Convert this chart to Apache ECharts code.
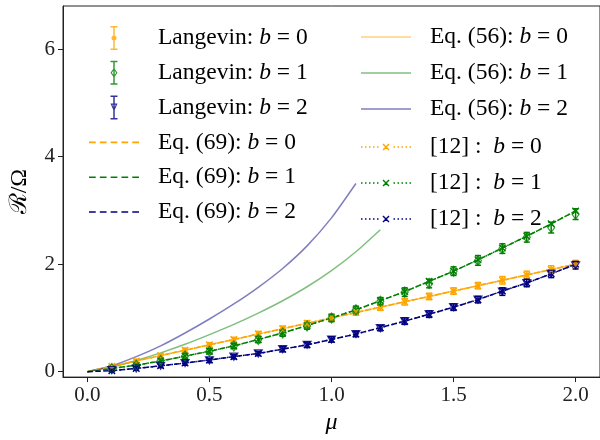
<!DOCTYPE html>
<html>
<head>
<meta charset="utf-8">
<script src="https://cdn.jsdelivr.net/npm/echarts@6/dist/echarts.min.js"></script>
<style>
  html, body { margin: 0; padding: 0; background: #fff; }
  #chart { width: 600px; height: 440px; }
</style>
</head>
<body>
<div id="chart"></div>
<script>
// mu grid of the simulation points, and of the theory curves (starting at 0)
const mu = [0.1, 0.2, 0.3, 0.4, 0.5, 0.6, 0.7, 0.8, 0.9, 1.0, 1.1, 1.2, 1.3, 1.4, 1.5, 1.6, 1.7, 1.8, 1.9, 2.0];
const muLine = [0, 0.1, 0.2, 0.3, 0.4, 0.5, 0.6, 0.7, 0.8, 0.9, 1.0, 1.1, 1.2, 1.3, 1.4, 1.5, 1.6, 1.7, 1.8, 1.9, 2.0];
const muEq56B1 = [0, 0.1, 0.2, 0.3, 0.4, 0.5, 0.6, 0.7, 0.8, 0.9, 1.0, 1.1, 1.2];
const muEq56B2 = [0, 0.1, 0.2, 0.3, 0.4, 0.5, 0.6, 0.7, 0.8, 0.9, 1.0, 1.1];

// Langevin simulation with error bars
const langB0 = [0.10, 0.20, 0.29, 0.40, 0.50, 0.60, 0.70, 0.80, 0.90, 1.00, 1.10, 1.20, 1.30, 1.40, 1.50, 1.60, 1.70, 1.80, 1.90, 2.00];
const errB0 = [0.03, 0.03, 0.04, 0.04, 0.04, 0.04, 0.05, 0.05, 0.05, 0.05, 0.05, 0.06, 0.06, 0.06, 0.06, 0.06, 0.07, 0.07, 0.07, 0.07];
const langB1 = [0.06, 0.12, 0.21, 0.29, 0.38, 0.48, 0.60, 0.72, 0.85, 1.00, 1.15, 1.31, 1.48, 1.64, 1.87, 2.07, 2.29, 2.50, 2.68, 2.93];
const errB1 = [0.03, 0.04, 0.04, 0.05, 0.05, 0.05, 0.06, 0.06, 0.06, 0.07, 0.07, 0.07, 0.08, 0.08, 0.08, 0.09, 0.09, 0.09, 0.10, 0.10];
const langB2 = [0.03, 0.06, 0.11, 0.16, 0.21, 0.28, 0.34, 0.42, 0.50, 0.60, 0.70, 0.81, 0.94, 1.07, 1.20, 1.34, 1.49, 1.65, 1.82, 1.98];
const errB2 = [0.03, 0.03, 0.03, 0.04, 0.04, 0.04, 0.04, 0.05, 0.05, 0.05, 0.05, 0.05, 0.06, 0.06, 0.06, 0.06, 0.07, 0.07, 0.07, 0.07];

// Eq. (69)
const eq69B0 = [0, 0.10, 0.20, 0.30, 0.40, 0.50, 0.60, 0.70, 0.80, 0.90, 1.00, 1.10, 1.20, 1.30, 1.40, 1.50, 1.60, 1.70, 1.80, 1.90, 2.00];
const eq69B1 = [0, 0.06, 0.12, 0.20, 0.29, 0.38, 0.48, 0.60, 0.72, 0.86, 1.00, 1.15, 1.32, 1.49, 1.68, 1.87, 2.08, 2.30, 2.52, 2.75, 2.99];
const eq69B2 = [0, 0.02, 0.06, 0.11, 0.16, 0.22, 0.28, 0.34, 0.42, 0.50, 0.60, 0.70, 0.82, 0.94, 1.07, 1.20, 1.34, 1.50, 1.65, 1.82, 2.00];

// Eq. (56)
const eq56B0 = [0, 0.10, 0.20, 0.30, 0.40, 0.50, 0.60, 0.70, 0.80, 0.90, 1.00, 1.10, 1.20, 1.30, 1.40, 1.50, 1.60, 1.70, 1.80, 1.90, 2.00];
const eq56B1 = [0, 0.09, 0.21, 0.35, 0.51, 0.69, 0.88, 1.09, 1.32, 1.58, 1.88, 2.23, 2.64];
const eq56B2 = [0, 0.11, 0.28, 0.48, 0.72, 0.98, 1.26, 1.57, 1.92, 2.34, 2.86, 3.50];

// [12]
const ref12B0 = [0.10, 0.20, 0.30, 0.40, 0.50, 0.60, 0.70, 0.80, 0.90, 1.00, 1.10, 1.20, 1.30, 1.40, 1.50, 1.60, 1.70, 1.80, 1.90, 2.00];
const ref12B1 = [0.06, 0.12, 0.20, 0.29, 0.38, 0.48, 0.60, 0.72, 0.86, 1.00, 1.15, 1.32, 1.49, 1.68, 1.87, 2.08, 2.30, 2.52, 2.75, 2.99];
const ref12B2 = [0.02, 0.06, 0.11, 0.16, 0.22, 0.28, 0.34, 0.42, 0.50, 0.60, 0.70, 0.82, 0.94, 1.07, 1.20, 1.34, 1.50, 1.65, 1.82, 2.00];

const xTicks = [0, 0.5, 1.0, 1.5, 2.0];
const yTicks = [0, 2, 4, 6];

const ORANGE = '#ffa500', GREEN = '#008000', NAVY = '#000080';
const FONT = '"Liberation Serif", "DejaVu Serif", serif';

const pair = (xs, ys) => xs.map((x, i) => [x, ys[i]]);
const errData = (ys, es) => mu.map((x, i) => [x, ys[i] - es[i], ys[i] + es[i]]);

// legend icons (filled paths)
const beam = 'M0 0H7V1.5H4.25V22.5H7V24H0V22.5H2.75V1.5H0Z';
const iconB0 = 'path://' + beam + 'M1 12A2.5 2.5 0 0 1 6 12A2.5 2.5 0 0 1 1 12Z';
const iconB1 = 'path://' + beam + 'M3.5 7L7 12L3.5 17L0 12ZM3.5 8.8L1.4 12L3.5 15.2L5.6 12Z';
const iconB2 = 'path://' + beam + 'M0 8L7 8L3.5 16ZM1.8 9.1L3.5 13.4L5.2 9.1Z';
const iconDash = 'path://' + [0, 10.6, 21.2, 31.8, 42.4].map(x => `M${x} 0h6.6v1.6h-6.6Z`).join('');
const iconSolid = 'path://M0 0H50V1.6H0Z';
const iconDotX = 'path://' + [0, 4, 8, 12, 16, 32.5, 36.5, 40.5, 44.5, 48.5].map(x => `M${x} 2.75h1.5v1.5h-1.5Z`).join('') +
  'M21.5 1L22.5 0L28.5 6L27.5 7ZM27.5 0L28.5 1L22.5 7L21.5 6Z';

const xSymbol = 'path://M0 0L10 10M10 0L0 10';

function errorBars(color, ys, es) {
  return {
    type: 'custom',
    z: 4,
    data: errData(ys, es),
    encode: { x: 0, y: [1, 2] },
    renderItem: (params, api) => {
      const lo = api.coord([api.value(0), api.value(1)]);
      const hi = api.coord([api.value(0), api.value(2)]);
      const st = { stroke: color, lineWidth: 1.5 };
      return {
        type: 'group',
        children: [
          { type: 'line', shape: { x1: lo[0], y1: lo[1], x2: hi[0], y2: hi[1] }, style: st },
          { type: 'line', shape: { x1: lo[0] - 3, y1: lo[1], x2: lo[0] + 3, y2: lo[1] }, style: st },
          { type: 'line', shape: { x1: hi[0] - 3, y1: hi[1], x2: hi[0] + 3, y2: hi[1] }, style: st }
        ]
      };
    }
  };
}

function curve(name, xs, ys, color, type, z, smooth) {
  return {
    name, type: 'line', z, data: pair(xs, ys), symbol: 'none', smooth: smooth || false,
    lineStyle: { color, width: 1.5, type },
    itemStyle: { color }
  };
}

function ref12(name, ys, color) {
  return {
    name, type: 'line', z: 3, data: pair(mu, ys),
    symbol: xSymbol, symbolSize: 6.5,
    lineStyle: { color, width: 1.5, type: [1.5, 2.5] },
    itemStyle: { color, borderColor: color, borderWidth: 1.4 }
  };
}

const richText = {
  i: { fontStyle: 'italic', fontFamily: FONT, fontSize: 23.5, color: '#000' }
};
const fmt = name => name.replace(' b ', ' {i|b} ');

function legend(items, left, top, gap) {
  return {
    left, top, orient: 'vertical', padding: 0,
    itemWidth: 50, itemHeight: 24, itemGap: gap,
    selectedMode: false,
    itemStyle: { borderWidth: 0 },
    textStyle: { fontFamily: FONT, fontSize: 23.5, color: '#000', padding: [0, 0, 0, 14], rich: richText },
    formatter: fmt,
    data: items.map(([name, icon, color]) => ({ name, icon, itemStyle: { color, borderWidth: 0 } }))
  };
}

const chart = echarts.init(document.getElementById('chart'));
chart.setOption({
  animation: false,
  backgroundColor: '#fff',
  grid: { left: 59.5, top: 6, width: 542, height: 376, show: true, borderColor: '#222', borderWidth: 1 },
  legend: [
    legend([
      ['Langevin: b = 0', iconB0, ORANGE],
      ['Langevin: b = 1', iconB1, GREEN],
      ['Langevin: b = 2', iconB2, NAVY],
      ['Eq. (69): b = 0', iconDash, ORANGE],
      ['Eq. (69): b = 1', iconDash, GREEN],
      ['Eq. (69): b = 2', iconDash, NAVY]
    ], 89, 26, 10.8),
    legend([
      ['Eq. (56): b = 0', iconSolid, 'rgba(255,165,0,0.5)'],
      ['Eq. (56): b = 1', iconSolid, 'rgba(0,128,0,0.5)'],
      ['Eq. (56): b = 2', iconSolid, 'rgba(0,0,128,0.5)']
    ], 361, 25, 12),
    legend([
      ['[12] :  b = 0', iconDotX, ORANGE],
      ['[12] :  b = 1', iconDotX, GREEN],
      ['[12] :  b = 2', iconDotX, NAVY]
    ], 361, 135, 12)
  ],
  xAxis: {
    type: 'value', min: -0.1, max: 2.1,
    name: 'μ', nameLocation: 'middle', nameGap: 30,
    nameTextStyle: { fontFamily: FONT, fontSize: 24, fontStyle: 'italic', color: '#000' },
    axisLine: { show: true, onZero: false, lineStyle: { color: '#222', width: 1 } },
    axisTick: { show: true, customValues: xTicks, length: 5, lineStyle: { color: '#222' } },
    axisLabel: { customValues: xTicks, formatter: v => v.toFixed(1), margin: 8, fontFamily: FONT, fontSize: 21, color: '#222' },
    splitLine: { show: false }
  },
  yAxis: {
    type: 'value', min: -0.1, max: 6.8,
    name: 'ℛ/Ω', nameLocation: 'middle', nameGap: 31, nameRotate: 90,
    nameTextStyle: { fontFamily: FONT, fontSize: 24, color: '#000' },
    axisLine: { show: true, onZero: false, lineStyle: { color: '#222', width: 1 } },
    axisTick: { show: true, customValues: yTicks, length: 5, lineStyle: { color: '#222' } },
    axisLabel: { customValues: yTicks, margin: 8, fontFamily: FONT, fontSize: 21, color: '#222' },
    splitLine: { show: false }
  },
  series: [
    curve('Eq. (56): b = 0', muLine, eq56B0, 'rgba(255,165,0,0.5)', 'solid', 1),
    curve('Eq. (56): b = 1', muEq56B1, eq56B1, 'rgba(0,128,0,0.5)', 'solid', 1, 0.2),
    curve('Eq. (56): b = 2', muEq56B2, eq56B2, 'rgba(0,0,128,0.5)', 'solid', 1, 0.2),
    curve('Eq. (69): b = 0', muLine, eq69B0, ORANGE, [5.5, 2.4], 2),
    curve('Eq. (69): b = 1', muLine, eq69B1, GREEN, [5.5, 2.4], 2),
    curve('Eq. (69): b = 2', muLine, eq69B2, NAVY, [5.5, 2.4], 2),
    ref12('[12] :  b = 0', ref12B0, ORANGE),
    ref12('[12] :  b = 1', ref12B1, GREEN),
    ref12('[12] :  b = 2', ref12B2, NAVY),
    errorBars(ORANGE, langB0, errB0),
    errorBars(GREEN, langB1, errB1),
    errorBars(NAVY, langB2, errB2),
    {
      name: 'Langevin: b = 0', type: 'scatter', z: 5, data: pair(mu, langB0),
      symbol: 'circle', symbolSize: 5, itemStyle: { color: ORANGE }
    },
    {
      name: 'Langevin: b = 1', type: 'scatter', z: 5, data: pair(mu, langB1),
      symbol: 'diamond', symbolSize: [7, 10],
      itemStyle: { color: 'transparent', borderColor: GREEN, borderWidth: 1.2 }
    },
    {
      name: 'Langevin: b = 2', type: 'scatter', z: 5, data: pair(mu, langB2),
      symbol: 'triangle', symbolRotate: 180, symbolSize: [8, 7],
      itemStyle: { color: 'transparent', borderColor: NAVY, borderWidth: 1.2 }
    }
  ]
});
</script>
</body>
</html>
